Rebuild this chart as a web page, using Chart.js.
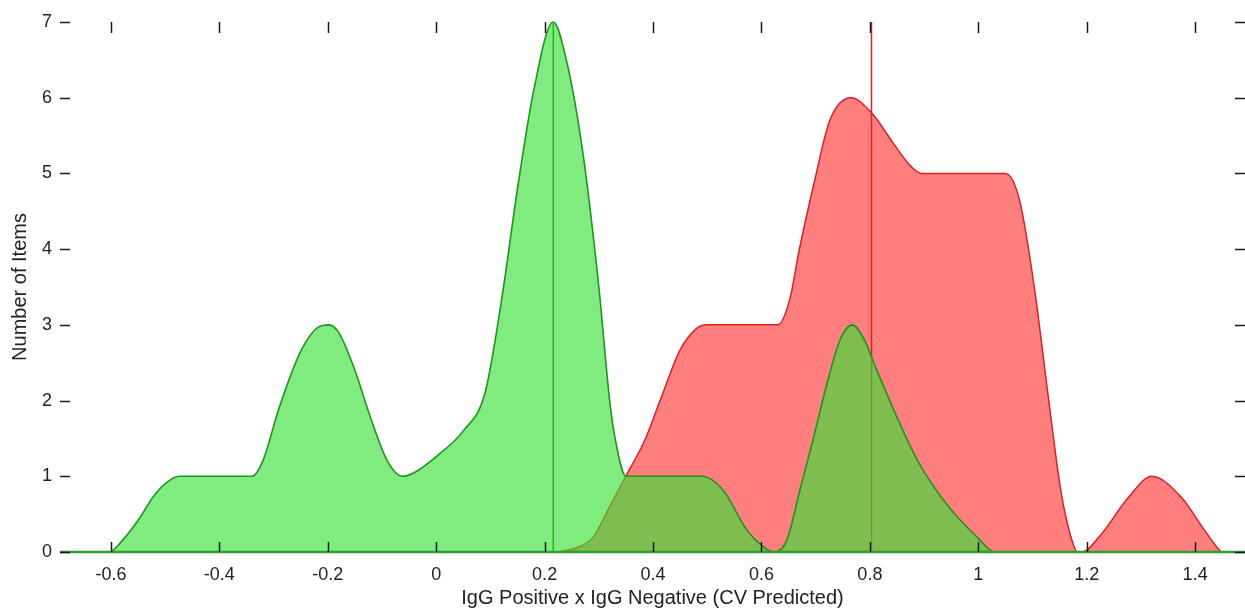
<!DOCTYPE html>
<html><head><meta charset="utf-8">
<script src="https://cdn.jsdelivr.net/npm/chart.js@4.4.1/dist/chart.umd.min.js"></script>
<style>html,body{margin:0;padding:0;background:#fff}#wrap{width:1245px;height:610px}</style>
</head><body><div id="wrap"><canvas id="c" width="1245" height="610"></canvas></div>
<script>
const X_TICKS = [-0.6,-0.4,-0.2,0,0.2,0.4,0.6,0.8,1,1.2,1.4];
const Y_TICKS = [0,1,2,3,4,5,6,7];
const X_MIN = -0.694, X_MAX = 1.492;

const GREEN_X = [-0.694,-0.603,-0.578,-0.546,-0.522,-0.497,-0.473,-0.34,-0.32,-0.29,-0.25,-0.215,-0.198,-0.18,-0.15,-0.12,-0.09,-0.062,-0.04,0.0,0.05,0.09,0.12,0.15,0.18,0.216,0.24,0.27,0.30,0.32,0.33,0.35,0.49,0.529,0.573,0.603,0.622,0.647,0.671,0.695,0.72,0.745,0.767,0.79,0.81,0.855,0.89,0.945,1.0,1.03,1.492];
const GREEN_Y = [0,0,0.16,0.46,0.73,0.92,1.0,1.0,1.2,1.9,2.65,2.98,3.0,2.9,2.4,1.75,1.2,1.0,1.05,1.26,1.6,2.1,3.3,4.8,6.1,7.0,6.5,5.3,3.5,2.0,1.5,1.0,1.0,0.82,0.29,0.07,0,0.16,0.82,1.48,2.2,2.8,3.0,2.8,2.45,1.7,1.18,0.6,0.18,0,0];

const RED_X = [0.225,0.26,0.29,0.32,0.348,0.385,0.413,0.45,0.48,0.50,0.63,0.652,0.67,0.698,0.726,0.765,0.803,0.845,0.875,0.895,1.05,1.076,1.104,1.13,1.152,1.17,1.183,1.192,1.223,1.278,1.32,1.376,1.413,1.444,1.448];
const RED_Y = [0,0.06,0.2,0.6,0.98,1.48,2.0,2.67,2.95,3.0,3.0,3.33,4.0,4.9,5.7,6.0,5.8,5.38,5.1,5.0,5.0,4.65,3.46,2.0,0.82,0.22,0,0,0.2,0.73,1.0,0.71,0.33,0.03,0];

const GREEN_MEAN = 0.216, RED_MEAN = 0.803;

const FONT = {family: '"Liberation Sans", Arial, sans-serif', size: 18};
const TITLE_FONT = {family: '"Liberation Sans", Arial, sans-serif', size: 20};
const pts = (xs, ys) => xs.map((x, i) => ({x, y: ys[i]}));

const tickMarks = {
  id: 'tickMarks',
  afterDatasetsDraw(chart) {
    const {ctx, chartArea: a, scales: {x, y}} = chart;
    ctx.save();
    ctx.strokeStyle = '#1a1a1a';
    ctx.lineWidth = 1.5;
    ctx.beginPath();
    X_TICKS.forEach(v => {
      const px = Math.round(x.getPixelForValue(v)) + 0.5;
      ctx.moveTo(px, a.top); ctx.lineTo(px, a.top + 11);
      ctx.moveTo(px, a.bottom); ctx.lineTo(px, a.bottom - 10);
    });
    Y_TICKS.forEach(v => {
      const py = Math.round(y.getPixelForValue(v)) + 0.5;
      ctx.moveTo(a.left, py); ctx.lineTo(a.left + 10, py);
      ctx.moveTo(a.right, py); ctx.lineTo(a.right - 10, py);
    });
    ctx.stroke();
    ctx.restore();
  }
};

new Chart(document.getElementById('c'), {
  type: 'scatter',
  data: {
    datasets: [
      {data: pts(RED_X, RED_Y), showLine: true, fill: 'origin', backgroundColor: 'rgba(255,0,0,0.5)',
       borderColor: '#dd1f1f', borderWidth: 1.5, pointRadius: 0, cubicInterpolationMode: 'monotone', order: 5, clip: false},
      {data: [{x: RED_MEAN, y: 0}, {x: RED_MEAN, y: 7}], showLine: true, borderColor: '#e02424', borderWidth: 1.5, pointRadius: 0, order: 4, clip: false},
      {data: pts(GREEN_X, GREEN_Y), showLine: true, fill: 'origin', backgroundColor: 'rgba(54,225,54,0.63)',
       borderColor: '#1c961c', borderWidth: 1.6, pointRadius: 0, cubicInterpolationMode: 'monotone', order: 3, clip: false},
      {data: [{x: GREEN_MEAN, y: 0}, {x: GREEN_MEAN, y: 7}], showLine: true, borderColor: '#22b522', borderWidth: 1.5, pointRadius: 0, order: 2, clip: false},
      {data: [{x: X_MIN, y: 0}, {x: X_MAX, y: 0}], showLine: true, borderColor: '#2f9e2f', borderWidth: 2.5, pointRadius: 0, order: 1, clip: false}
    ]
  },
  options: {
    responsive: false,
    animation: false,
    devicePixelRatio: 1,
    layout: {padding: {top: 22, right: 0, left: 0, bottom: 0}},
    plugins: {legend: {display: false}, tooltip: {enabled: false}},
    scales: {
      x: {
        type: 'linear', min: X_MIN, max: X_MAX,
        grid: {display: false}, border: {display: false},
        afterBuildTicks: s => { s.ticks = X_TICKS.map(v => ({value: v})); },
        afterFit: s => { s.height = 58; },
        ticks: {font: FONT, color: '#222', padding: 4, maxRotation: 0, autoSkip: false,
                callback: v => String(Math.round(v * 10) / 10)},
        title: {display: true, text: 'IgG Positive x IgG Negative (CV Predicted)', font: TITLE_FONT, color: '#222', padding: {top: 0, bottom: 0}}
      },
      y: {
        min: 0, max: 7,
        grid: {display: false}, border: {display: false},
        afterBuildTicks: s => { s.ticks = Y_TICKS.map(v => ({value: v})); },
        afterFit: s => { s.width = 60; },
        ticks: {font: FONT, color: '#222', padding: 0},
        title: {display: true, text: 'Number of Items', font: TITLE_FONT, color: '#222', padding: {top: 8, bottom: 0}}
      }
    }
  },
  plugins: [tickMarks]
});
</script>
</body></html>
